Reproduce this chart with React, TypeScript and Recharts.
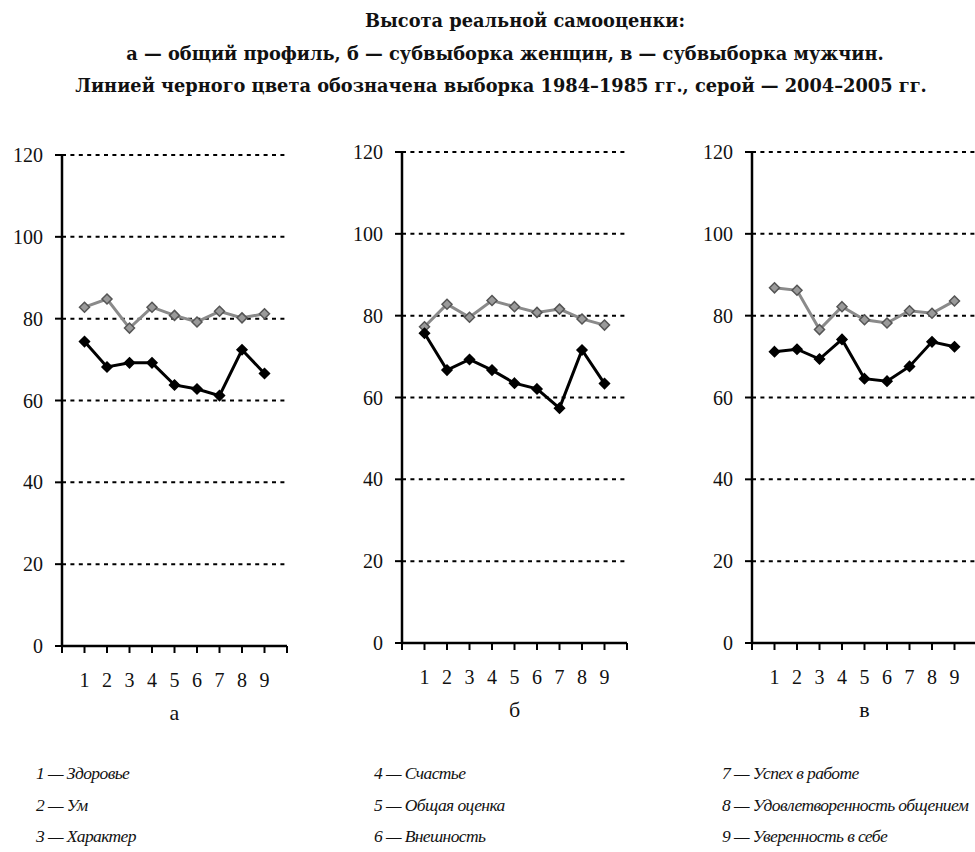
import React from "react";
import { CartesianGrid, Line, LineChart, XAxis, YAxis } from "recharts";

const items = [1, 2, 3, 4, 5, 6, 7, 8, 9];
const xTicks = [0, 1, 2, 3, 4, 5, 6, 7, 8, 9, 10];
const yTicks = [0, 20, 40, 60, 80, 100, 120];

// black = 1984–1985, gray = 2004–2005
const totalOld = [74.4, 68.2, 69.2, 69.2, 63.8, 62.8, 61.2, 72.4, 66.6];
const totalNew = [82.8, 84.8, 77.7, 82.8, 80.8, 79.2, 81.8, 80.2, 81.2];
const womenOld = [75.7, 66.7, 69.3, 66.7, 63.5, 62.1, 57.4, 71.6, 63.4];
const womenNew = [77.3, 82.8, 79.6, 83.7, 82.2, 80.8, 81.6, 79.2, 77.7];
const menOld = [71.2, 71.8, 69.4, 74.2, 64.6, 64.0, 67.6, 73.6, 72.4];
const menNew = [86.8, 86.2, 76.6, 82.2, 79.0, 78.2, 81.2, 80.6, 83.6];

const titleLines = [
  "Высота реальной самооценки:",
  "а — общий профиль, б — субвыборка женщин, в — субвыборка мужчин.",
  "Линией черного цвета обозначена выборка 1984–1985 гг., серой — 2004–2005 гг.",
];

const legendItems = [
  ["1 — Здоровье", "2 — Ум", "3 — Характер"],
  ["4 — Счастье", "5 — Общая оценка", "6 — Внешность"],
  ["7 — Успех в работе", "8 — Удовлетворенность общением", "9 — Уверенность в себе"],
];

const SERIF = "Liberation Serif";
const WIDE_SERIF = "DejaVu Serif";

function diamond(fill: string, stroke: string) {
  return (props: any) => {
    const { cx, cy, index } = props;
    if (cx == null || cy == null) return <g key={index} />;
    const r = 5;
    return (
      <path
        key={index}
        d={`M${cx},${cy - r}L${cx + r},${cy}L${cx},${cy + r}L${cx - r},${cy}Z`}
        fill={fill}
        stroke={stroke}
        strokeWidth={1.5}
      />
    );
  };
}

function Panel({
  oldVals,
  newVals,
  left,
  top,
  letter,
}: {
  oldVals: number[];
  newVals: number[];
  left: number;
  top: number;
  letter: string;
}) {
  const data = items.map((n, i) => ({ n, old: oldVals[i], neu: newVals[i] }));
  const plotW = 225;
  const plotH = 491;
  const axisW = 62;
  return (
    <div style={{ position: "absolute", left, top: top - 10 }}>
      <LineChart
        width={axisW + plotW + 10}
        height={10 + plotH + 60}
        data={data}
        margin={{ top: 10, right: 10, left: 0, bottom: 0 }}
      >
        <CartesianGrid
          horizontal
          vertical={false}
          stroke="#000"
          strokeWidth={2}
          strokeDasharray="4 4.4"
          horizontalValues={[20, 40, 60, 80, 100, 120]}
        />
        <XAxis
          dataKey="n"
          type="number"
          domain={[0, 10]}
          ticks={xTicks}
          interval={0}
          height={60}
          tickSize={7}
          tickMargin={20}
          axisLine={{ stroke: "#000", strokeWidth: 2.5 }}
          tickLine={{ stroke: "#000", strokeWidth: 2 }}
          tick={{ fontSize: 20, fill: "#111", fontFamily: SERIF }}
          tickFormatter={(v: number) => (v >= 1 && v <= 9 ? String(v) : "")}
        />
        <YAxis
          domain={[0, 120]}
          ticks={yTicks}
          interval={0}
          width={axisW}
          tickSize={7}
          tickMargin={12}
          axisLine={{ stroke: "#000", strokeWidth: 2.5 }}
          tickLine={{ stroke: "#000", strokeWidth: 2 }}
          tick={{ fontSize: 20, fill: "#111", fontFamily: SERIF }}
        />
        <Line
          dataKey="neu"
          stroke="#8a8a8a"
          strokeWidth={3}
          dot={diamond("#9a9a9a", "#555")}
          activeDot={false}
          isAnimationActive={false}
        />
        <Line
          dataKey="old"
          stroke="#000"
          strokeWidth={3}
          dot={diamond("#000", "#000")}
          activeDot={false}
          isAnimationActive={false}
        />
      </LineChart>
      <div
        style={{
          position: "absolute",
          left: axisW,
          width: plotW,
          top: 10 + plotH + 55,
          textAlign: "center",
          fontFamily: SERIF,
          fontSize: 22,
          lineHeight: "24px",
          color: "#111",
        }}
      >
        {letter}
      </div>
    </div>
  );
}

export default function App() {
  const titleCenters = [525, 505, 501];
  return (
    <div
      style={{
        position: "absolute",
        left: 0,
        top: 0,
        width: 975,
        height: 852,
        overflow: "hidden",
        background: "#fff",
        fontFamily: SERIF,
      }}
    >
      {titleLines.map((t, i) => (
        <div
          key={i}
          style={{
            position: "absolute",
            left: titleCenters[i] - 500,
            width: 1000,
            top: 10 + i * 32.5,
            textAlign: "center",
            fontFamily: WIDE_SERIF,
            fontWeight: "bold",
            fontSize: 17.8,
            lineHeight: "22px",
            color: "#111",
            whiteSpace: "nowrap",
          }}
        >
          {t}
        </div>
      ))}
      <Panel oldVals={totalOld} newVals={totalNew} left={0} top={155} letter="а" />
      <Panel oldVals={womenOld} newVals={womenNew} left={340} top={152} letter="б" />
      <Panel oldVals={menOld} newVals={menNew} left={690} top={152} letter="в" />
      {legendItems.map((col, ci) =>
        col.map((t, ri) => (
          <div
            key={`${ci}-${ri}`}
            style={{
              position: "absolute",
              left: [36, 374, 722][ci],
              top: 762 + ri * 31.5,
              fontFamily: SERIF,
              fontStyle: "italic",
              fontSize: 17.5,
              letterSpacing: "-0.6px",
              lineHeight: "22px",
              color: "#111",
              whiteSpace: "nowrap",
            }}
          >
            {t}
          </div>
        ))
      )}
    </div>
  );
}
